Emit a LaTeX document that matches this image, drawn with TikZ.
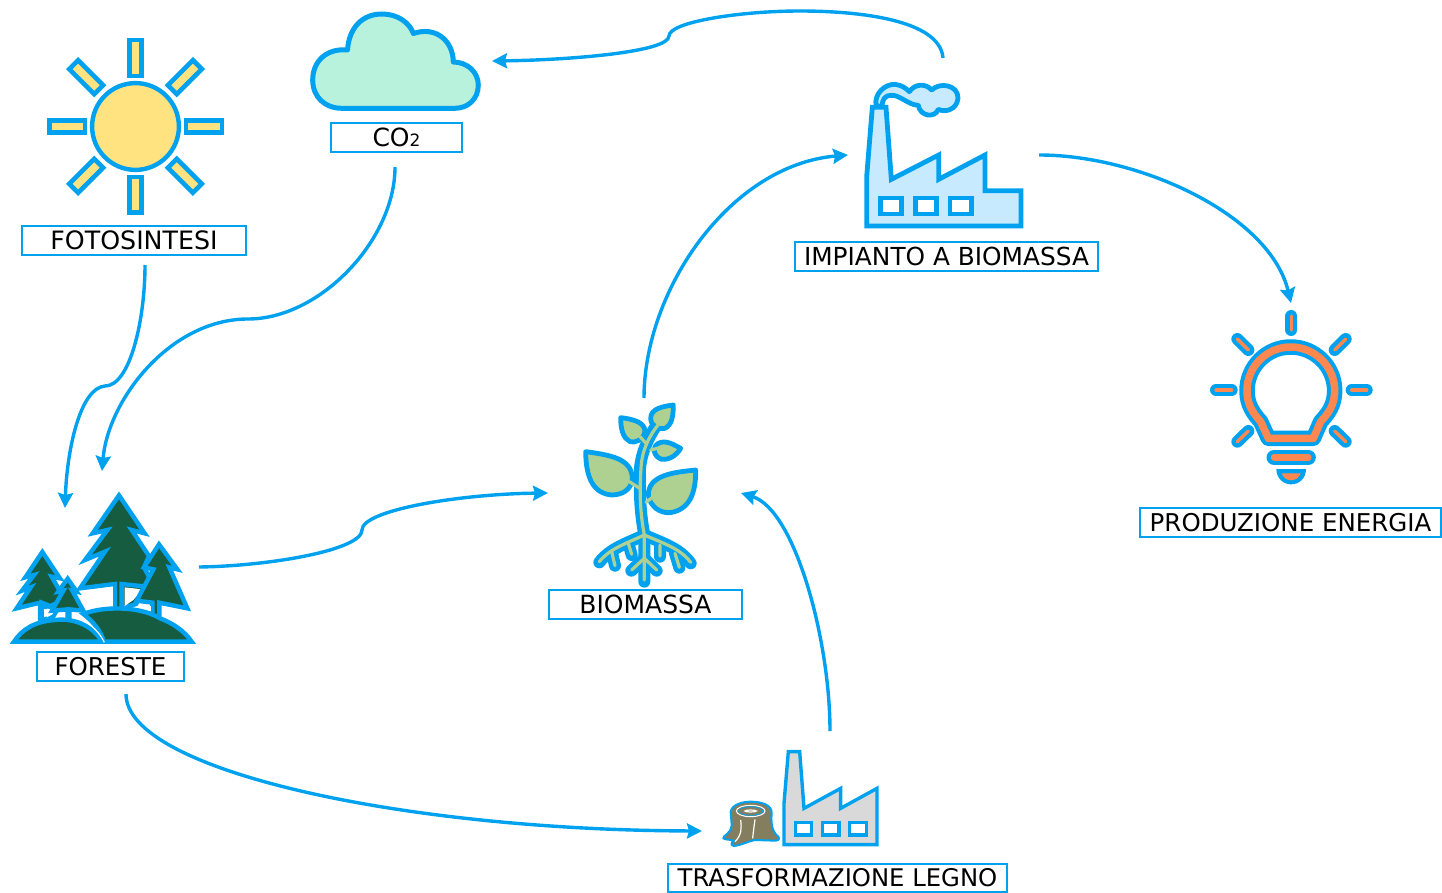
\documentclass[tikz,border=0pt]{standalone}
\usepackage{fontspec}
\setmainfont{DejaVu Sans}
\usetikzlibrary{arrows.meta}
\definecolor{bl}{HTML}{00A2F0}
\definecolor{sunf}{HTML}{FFE380}
\definecolor{cloudf}{HTML}{B9F2DC}
\definecolor{forestf}{HTML}{165C40}
\definecolor{leaff}{HTML}{AED090}
\definecolor{factf}{HTML}{C8EAFF}
\definecolor{orng}{HTML}{FF8850}
\definecolor{greyf}{HTML}{D9D9D9}
\definecolor{stumpf}{HTML}{857E5E}
\newcommand{\lowered}[1]{\raisebox{-1pt}{#1}}
\tikzset{
  z/.style 2 args={shift={(#1,#2)},x=0.33333pt,y=-0.33333pt},
  lab/.style={draw=bl,line width=2.8pt,fill=white,inner sep=0pt,text=black,font=\fontsize{25}{25}\selectfont,anchor=center},
  conn/.style={draw=bl,line width=3.4pt,-{Stealth[length=15pt,width=15pt,inset=2pt]}},
  ray/.style={draw=bl,fill=sunf,line width=4.6pt,miter limit=2},
  tree/.style={draw=bl,fill=forestf,line width=4.4pt,line join=miter,miter limit=4},
  leafs/.style={draw=bl,fill=leaff,line width=4.8pt,line join=round},
  stemb/.style={draw=bl,line width=12pt,line cap=round,line join=round},
  stemg/.style={draw=leaff,line width=3.2pt,line cap=round,line join=round},
  win/.style={draw=bl,fill=white,line width=4.8pt},
  lampb/.style={draw=bl,line cap=round,line join=round},
  lampo/.style={draw=orng,line cap=round,line join=round},
}
\begin{document}
\begin{tikzpicture}[x=1pt,y=-1pt]
\useasboundingbox (0,0) rectangle (1442,893);
% sun
\draw[draw=bl,fill=sunf,line width=4.4pt] (135.5,126.5) circle (43.4pt);
\foreach \a in {0,90,180,270}
  \draw[ray,rotate around={\a:(135.5,126.5)}] (129.3,40.2) rectangle (141.7,76);
\foreach \a in {45,135,225,315}
  \draw[ray,rotate around={\a:(135.5,126.5)}] (129.3,39) rectangle (141.7,74.5);
% cloud
\draw[draw=bl,fill=cloudf,line width=5pt,line join=round]
  (341.7,108.3) .. controls (325,108.3) and (312.7,97) .. (312.7,80)
  .. controls (312.7,60) and (328,48) .. (347.5,50)
  .. controls (349,28) and (362,14) .. (382,14)
  .. controls (397,14) and (409,22) .. (413.5,33.5)
  .. controls (435,26) and (453,40) .. (453.3,62)
  .. controls (467,62) and (478.3,72) .. (478.3,85)
  .. controls (478.3,99) and (468,108.3) .. (455,108.3) -- cycle;
% forest
\begin{scope}[z={0}{480}]
  \draw[tree] (357,46) -- (434,160) -- (395,150) -- (447,228) -- (432,262) -- (452,300) -- (440,322) -- (408,372)
     -- (365,385) -- (365,312) -- (440,320) -- (408,372) -- (365,385) -- (345,395) -- (345,312) -- (240,325)
     -- (315,215) -- (255,240) -- (322,150) -- (278,160) -- cycle;
  \fill[white] (246,334) -- (339,320) -- (339,376) -- (252,394) -- cycle;
  \fill[white] (374,322) -- (428,328) -- (400,360) -- (374,378) -- cycle;
  \draw[tree] (477,193) -- (532,268) -- (508,262) -- (562,385) -- (478,368) -- (478,420) -- (457,420) -- (457,368)
     -- (410,362) -- (460,268) -- (432,262) -- cycle;
  \fill[white] (400,382) -- (453,378) -- (453,394) -- cycle;
  \draw[tree] (127,216) -- (180,295) -- (155,290) -- (195,360) -- (150,378) -- (125,368) -- (125,430) -- (120,430) -- (120,368)
     -- (50,385) -- (92,322) -- (66,332) -- (102,285) -- (76,292) -- cycle;
  \draw[draw=bl,line width=4pt] (125,380) -- (175,385) -- (160,410) -- (125,420);
  \fill[white] (141,386) -- (166,390) -- (154,404) -- (141,412) -- cycle;
  \draw[tree] (203,296) -- (230,335) -- (217,332) -- (250,392) -- (208,388) -- (208,418) -- (203,418) -- (203,388) -- (156,392)
     -- (190,332) -- (175,335) -- cycle;
  \draw[tree] (250,402) .. controls (310,378) and (420,378) .. (480,415)
     .. controls (520,430) and (555,455) .. (575,485) -- (312,485) .. controls (300,450) and (280,425) .. (250,402) -- cycle;
  \draw[tree] (42,485) .. controls (65,450) and (100,425) .. (165,420)
     .. controls (230,412) and (285,445) .. (305,485) -- cycle;
  \draw[white,line width=1.2pt] (222,408) .. controls (265,425) and (295,450) .. (313,487);
\end{scope}
% plant
\begin{scope}[z={560}{395}]
  \draw[stemb] (253,560) -- (253,420) .. controls (240,350) and (238,290) .. (240,220) .. controls (245,170) and (265,125) .. (300,75);
  \draw[stemb] (253,420) .. controls (200,445) and (150,460) .. (118,502);
  \draw[stemb] (253,420) .. controls (310,445) and (360,460) .. (392,505);
  \draw[stemb] (155,470) -- (165,512) (205,445) -- (215,480) (300,450) -- (300,485) (345,475) -- (358,518);
  \draw[stemb] (253,490) -- (214,527) (253,490) -- (290,527);
  \draw[leafs] (77,170) .. controls (150,180) and (215,190) .. (217,250) .. controls (215,285) and (185,300) .. (155,300) .. controls (100,295) and (78,250) .. (77,170) -- cycle;
  \draw[leafs] (407,225) .. controls (340,232) and (265,240) .. (265,300) .. controls (270,335) and (300,355) .. (330,353) .. controls (385,345) and (408,300) .. (407,225) -- cycle;
  \draw[leafs] (182,68) .. controls (215,72) and (255,80) .. (255,110) .. controls (250,135) and (225,145) .. (210,140) .. controls (190,130) and (182,105) .. (182,68) -- cycle;
  \draw[leafs] (340,30) .. controls (310,34) and (272,40) .. (272,70) .. controls (272,95) and (300,105) .. (315,100) .. controls (335,90) and (340,65) .. (340,30) -- cycle;
  \draw[leafs] (362,160) .. controls (335,145) and (315,135) .. (295,145) .. controls (275,155) and (280,185) .. (305,193) .. controls (330,195) and (350,180) .. (362,160) -- cycle;
  \draw[stemg] (253,555) -- (253,420) .. controls (240,350) and (238,290) .. (243,220) .. controls (245,170) and (265,125) .. (298,85);
  \draw[stemg] (253,420) .. controls (200,445) and (150,460) .. (118,500);
  \draw[stemg] (253,420) .. controls (310,445) and (360,460) .. (392,502);
  \draw[stemg] (155,470) -- (165,512) (205,445) -- (215,478) (300,450) -- (300,483) (345,475) -- (358,517);
  \draw[stemg] (253,490) -- (215,525) (253,490) -- (290,525);
  \draw[stemg] (208,260) -- (242,282) (258,322) -- (280,305) (240,125) -- (258,145) (272,165) -- (300,158);
\end{scope}
% biomass plant
\begin{scope}[z={850}{70}]
  \draw[draw=bl,fill=factf,line width=4.8pt,line join=round]
    (78,108) .. controls (72,70) and (105,42) .. (135,43) .. controls (155,45) and (168,55) .. (178,65)
    .. controls (195,40) and (228,40) .. (245,60) .. controls (270,35) and (325,45) .. (324,85)
    .. controls (320,120) and (285,128) .. (265,118) .. controls (255,145) and (210,140) .. (205,106)
    .. controls (175,105) and (150,75) .. (125,76) .. controls (105,75) and (97,88) .. (96,108) -- cycle;
  \draw[draw=bl,fill=factf,line width=4.8pt,line join=miter,miter limit=3]
    (50,468) -- (50,320) -- (67,112) -- (108,112) -- (124,328) -- (266,255) -- (266,328) -- (405,255) -- (405,362) -- (513,362) -- (513,468) -- cycle;
  \draw[win] (92,384) rectangle (155,432);
  \draw[win] (196,384) rectangle (260,432);
  \draw[win] (300,384) rectangle (365,432);
\end{scope}
% bulb
\begin{scope}[z={1200}{300}]
  \def\bulb{(205,415) -- (182,365) .. controls (160,340) and (141,315) .. (141,272) .. controls (141,200) and (200,141) .. (272,141) .. controls (345,141) and (404,200) .. (404,272) .. controls (404,315) and (385,340) .. (362,365) -- (340,415) -- cycle}
  \draw[lampb,line width=15.5pt] \bulb;
  \draw[lampo,line width=7.5pt] \bulb;
  \draw[lampb,line width=15pt] (222,472) -- (325,472);
  \draw[lampo,line width=6.5pt] (222,472) -- (325,472);
  \fill[bl] (229,507) -- (318,507) .. controls (318,535) and (298,553) .. (273,553) .. controls (250,553) and (229,535) .. (229,507) -- cycle;
  \fill[orng] (245,520) -- (302,520) .. controls (298,533) and (285,541) .. (273,541) .. controls (260,541) and (250,533) .. (245,520) -- cycle;
  \foreach \xa/\ya/\xb/\yb in {274/48/274/90,48/270/95/270,455/270/500/270,112/117/145/150,437/117/404/150,112/425/145/393,437/425/404/393}{
    \draw[lampb,line width=12pt] (\xa,\ya) -- (\xb,\yb);
    \draw[lampo,line width=3.4pt] (\xa,\ya) -- (\xb,\yb);
  }
\end{scope}
% wood factory and stump
\begin{scope}[z={710}{740}]
  \draw[draw=bl,fill=greyf,line width=3.4pt,line join=miter,miter limit=3]
    (222,314) -- (222,190) -- (235,35) -- (269,35) -- (282,205) -- (392,145) -- (392,205) -- (501,145) -- (501,314) -- cycle;
  \draw[win,line width=3.6pt] (256,248) rectangle (304,285);
  \draw[win,line width=3.6pt] (337,248) rectangle (387,285);
  \draw[win,line width=3.6pt] (419,248) rectangle (470,285);
  \draw[draw=bl,fill=stumpf,line width=2pt,line join=round]
    (62,215) .. controls (65,195) and (95,185) .. (122,185) .. controls (155,185) and (185,195) .. (185,218)
    .. controls (183,250) and (185,275) .. (205,290) .. controls (210,298) and (205,302) .. (195,302)
    -- (135,300) .. controls (120,302) and (95,315) .. (72,318) .. controls (62,316) and (62,308) .. (72,302)
    .. controls (60,298) and (48,300) .. (40,295) .. controls (38,285) and (62,285) .. (65,255) -- cycle;
  \draw[white,line width=1pt] (122,213) ellipse [x radius=43,y radius=17];
  \draw[white,line width=1.2pt] (122,213) ellipse [x radius=17,y radius=3];
  \draw[bl,line width=.8pt] (122,213) ellipse [x radius=36,y radius=13];
  \draw[white,line width=1.2pt] (92,240) .. controls (95,265) and (95,285) .. (75,305);
  \draw[white,line width=1.2pt] (135,238) .. controls (132,260) and (130,275) .. (128,295);
\end{scope}
% labels
\node[lab,minimum width=224pt,minimum height=29pt] (foto) at (134,240.5) {\lowered{\fontsize{25.3}{25}\selectfont FOTOSINTESI}};
\node[lab,minimum width=131pt,minimum height=29pt] (co) at (396.5,137.5) {\lowered{CO{\fontsize{17}{17}\selectfont 2}}};
\node[lab,minimum width=303pt,minimum height=29pt] (imp) at (946.5,256.5) {\lowered{\fontsize{24.8}{25}\selectfont IMPIANTO A BIOMASSA}};
\node[lab,minimum width=301pt,minimum height=29pt] (prod) at (1290.5,522.5) {\lowered{\fontsize{24.5}{25}\selectfont PRODUZIONE ENERGIA}};
\node[lab,minimum width=193pt,minimum height=29pt] (bio) at (645.5,604.5) {\lowered{BIOMASSA}};
\node[lab,minimum width=147pt,minimum height=29pt] (for) at (110.5,666.5) {\fontsize{24.5}{25}\selectfont FORESTE};
\node[lab,minimum width=339pt,minimum height=28pt] (tras) at (837.5,878) {\fontsize{24.3}{25}\selectfont TRASFORMAZIONE LEGNO};
% connector ends
\coordinate (fotoOut) at (145,265);
\coordinate (forIn1) at (65,508);
\coordinate (coOut) at (395,167);
\coordinate (forIn2) at (102,471);
\coordinate (forOut1) at (199,567);
\coordinate (bioIn1) at (548,493);
\coordinate (forOut2) at (126,694);
\coordinate (trasIn) at (702,831);
\coordinate (trasOut) at (830,731);
\coordinate (bioIn2) at (741,493);
\coordinate (bioOut) at (644,398);
\coordinate (impIn) at (848,155);
\coordinate (impOut1) at (943,58);
\coordinate (coIn) at (492,61);
\coordinate (impOut2) at (1039,155);
\coordinate (lampIn) at (1291,303);
\draw[conn] (fotoOut) .. controls (145,320) and (130,386) .. (105,386) .. controls (80,388) and (67,450) .. (forIn1);
\draw[conn] (coOut) .. controls (395,240) and (320,319) .. (248,319) .. controls (170,319) and (108,400) .. (forIn2);
\draw[conn] (forOut1) .. controls (270,566) and (362,550) .. (362,530) .. controls (362,510) and (460,494) .. (bioIn1);
\draw[conn] (forOut2) .. controls (126,770) and (400,830) .. (trasIn);
\draw[conn] (trasOut) .. controls (830,640) and (795,510) .. (bioIn2);
\draw[conn] (bioOut) .. controls (644,290) and (730,165) .. (impIn);
\draw[conn] (impOut1) .. controls (940,20) and (860,11) .. (800,11) .. controls (740,11) and (669,22) .. (669,36) .. controls (669,52) and (570,60) .. (coIn);
\draw[conn] (impOut2) .. controls (1140,155) and (1270,215) .. (lampIn);
\end{tikzpicture}
\end{document}
